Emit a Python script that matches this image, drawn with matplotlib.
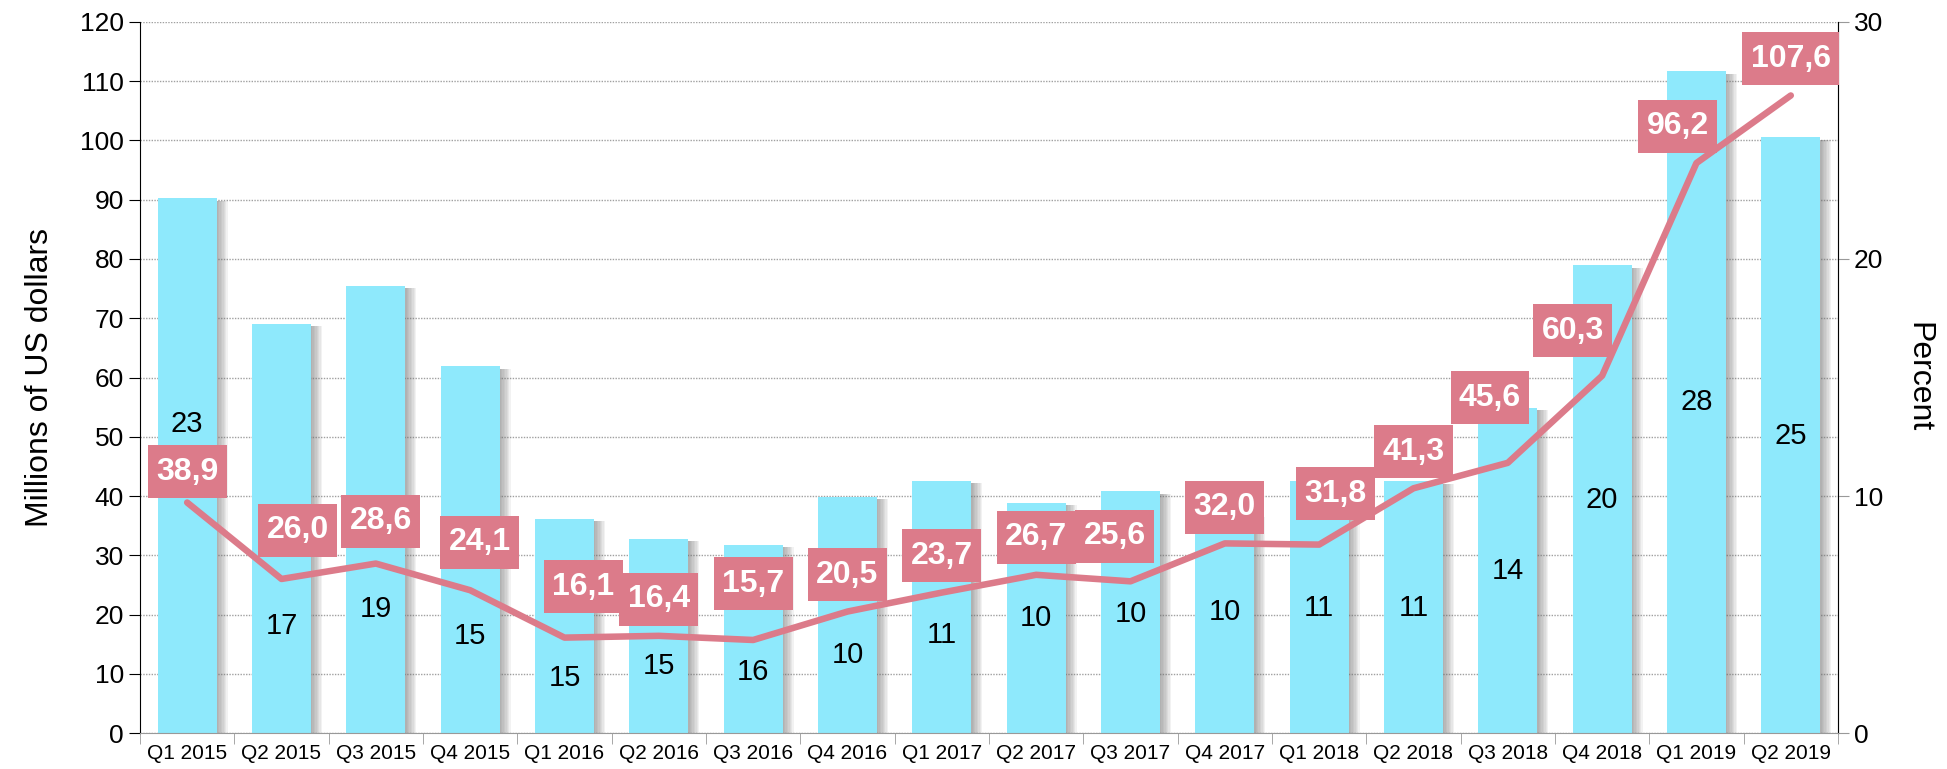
import matplotlib
matplotlib.use("Agg")
import matplotlib.pyplot as plt
import matplotlib.patheffects as pe
from matplotlib.path import Path
import numpy as np

plt.rcParams['font.family'] = ['Liberation Sans', 'DejaVu Sans']

quarters = ["Q1 2015", "Q2 2015", "Q3 2015", "Q4 2015", "Q1 2016", "Q2 2016",
            "Q3 2016", "Q4 2016", "Q1 2017", "Q2 2017", "Q3 2017", "Q4 2017",
            "Q1 2018", "Q2 2018", "Q3 2018", "Q4 2018", "Q1 2019", "Q2 2019"]
bar_values = [90.3, 69.1, 75.5, 61.9, 36.2, 32.8, 31.8, 39.9, 42.6, 38.9,
              40.8, 37.0, 42.6, 42.5, 54.9, 79.0, 111.7, 100.6]
bar_pct_labels = [23, 17, 19, 15, 15, 15, 16, 10, 11, 10, 10, 10, 11, 11, 14, 20, 28, 25]
line_values = [38.9, 26.0, 28.6, 24.1, 16.1, 16.4, 15.7, 20.5, 23.7, 26.7,
               25.6, 32.0, 31.8, 41.3, 45.6, 60.3, 96.2, 107.6]

# label placement (left-axis units / category offsets)
pct_label_y = [52.2, 18.0, 20.9, 16.3, 9.2, 11.3, 10.3, 13.1, 16.5, 19.4,
               20.1, 20.5, 21.1, 21.1, 27.3, 39.4, 55.9, 50.2]
line_label_y = [44.1, 34.2, 35.7, 32.2, 24.7, 22.6, 25.2, 26.7, 29.9, 33.0,
                33.2, 38.1, 40.4, 47.5, 56.6, 67.9, 102.4, 113.8]
line_label_dx = [0, 0.17, 0.05, 0.1, 0.2, 0, 0, 0, 0, 0,
                 -0.17, 0, 0.17, 0, -0.19, -0.31, -0.2, 0]

BAR_C = "#8EE9FC"
LINE_C = "#DC7B8A"


def label_box(x0, y0, width, height, mutation_size):
    px = 0.26 * mutation_size
    py = 0.36 * mutation_size
    xa, ya = x0 - px, y0 - py
    xb, yb = x0 + width + px, y0 + height + py
    return Path([(xa, ya), (xb, ya), (xb, yb), (xa, yb), (xa, ya)], closed=True)


fig = plt.figure(figsize=(19.47, 7.69), dpi=100)
ax = fig.add_axes([0.0719, 0.0468, 0.8721, 0.9246])
ax2 = ax.twinx()

x = np.arange(len(quarters))
bars = ax.bar(x, bar_values, width=0.625, color=BAR_C, zorder=2)
shadow = [pe.SimplePatchShadow(offset=(k, -2), shadow_rgbFace="#707070", alpha=0.09) for k in range(8, 0, -1)]
for b in bars:
    b.set_path_effects(shadow + [pe.Normal()])

ax.plot(x, line_values, color=LINE_C, lw=4.7, zorder=3, solid_capstyle='round', solid_joinstyle='round')

for i in x:
    ax.text(i, pct_label_y[i], str(bar_pct_labels[i]), ha='center', va='center',
            fontsize=21, color='black', zorder=4)
    ax.text(i + line_label_dx[i], line_label_y[i], f"{line_values[i]:.1f}".replace('.', ','),
            ha='center', va='center', fontsize=23, fontweight='bold', color='white', zorder=5,
            bbox=dict(boxstyle=label_box, fc=LINE_C, ec='none'))

ax.set_xlim(-0.5, len(quarters) - 0.5)
ax.set_ylim(0, 120)
ax.set_yticks(np.arange(0, 121, 10))
ax2.set_ylim(0, 30)
ax2.set_yticks([0, 10, 20, 30])

ax.set_xticks(x)
ax.set_xticklabels(quarters, fontsize=15)
ax.set_xticks(np.arange(-0.5, len(quarters), 1), minor=True)
ax.tick_params(axis='x', which='major', length=0, pad=8)
ax.tick_params(axis='x', which='minor', length=8, color='#999999')
ax.tick_params(axis='y', labelsize=19, length=8, color='black')
ax2.tick_params(axis='y', labelsize=19, length=8, color='#999999')

ax.yaxis.grid(True, linestyle=(0, (1, 1)), color='#A0A0A0', lw=1, zorder=0)
ax.set_axisbelow(True)

ax.spines['top'].set_visible(False)
ax2.spines['top'].set_visible(False)
ax.spines['left'].set_color('black')
ax.spines['bottom'].set_color('#999999')
ax2.spines['right'].set_color('#999999')
ax2.spines['left'].set_visible(False)
ax2.spines['bottom'].set_visible(False)

ax.set_ylabel("Millions of US dollars", fontsize=23, labelpad=18)
ax2.set_ylabel("Percent", fontsize=23, rotation=-90, labelpad=36)

ax.set_zorder(ax2.get_zorder() + 1)
ax.patch.set_visible(False)

fig.savefig("out.png", dpi=100)
